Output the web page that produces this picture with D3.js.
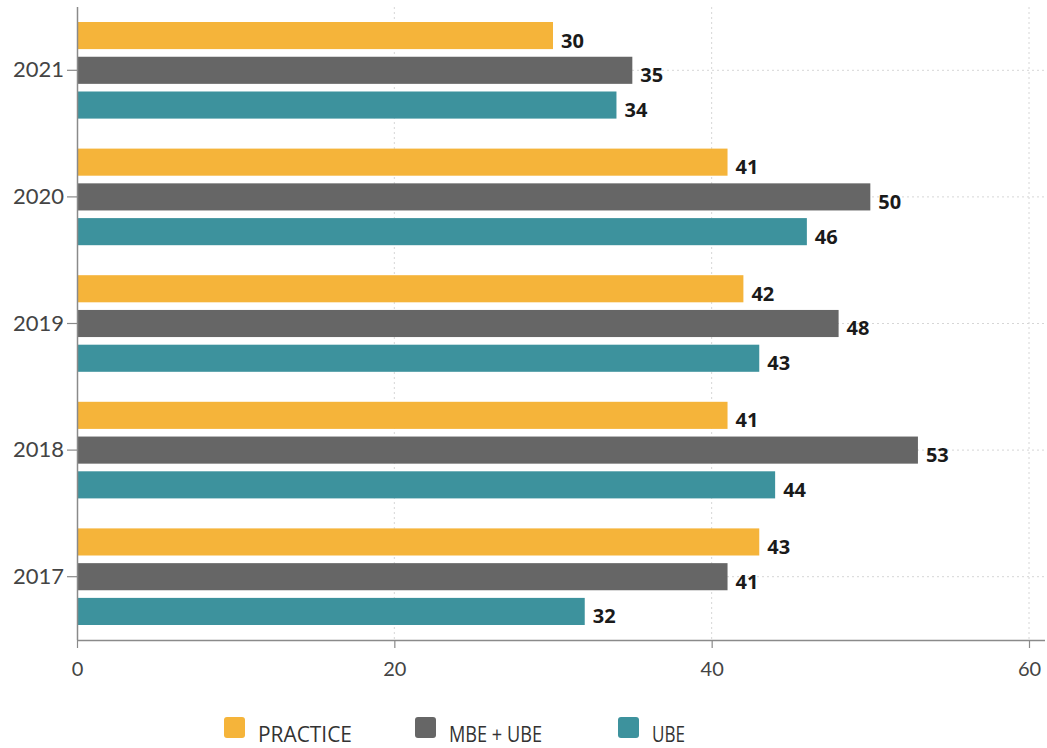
<!DOCTYPE html>
<html>
<head>
<meta charset="utf-8">
<script src="https://cdn.jsdelivr.net/npm/d3@7"></script>
<style>
  html, body { margin: 0; padding: 0; background: #fff; }
  svg { display: block; }
</style>
</head>
<body>
<svg id="chart" width="1047" height="748"></svg>
<script>
// Years, top to bottom
const years = ["2021", "2020", "2019", "2018", "2017"];
// Series names (legend order)
const seriesNames = ["PRACTICE", "MBE + UBE", "UBE"];
const seriesColors = ["#F5B43A", "#666666", "#3D929D"];
// Values per series, aligned with years
const practice = [30, 41, 42, 41, 43];
const mbeUbe   = [35, 50, 48, 53, 41];
const ube      = [34, 46, 43, 44, 32];
const xTicks = [0, 20, 40, 60];

const seriesValues = [practice, mbeUbe, ube];

const svg = d3.select("#chart");
const plotLeft = 77, plotRight = 1045, plotTop = 7, plotBottom = 640;

const x = d3.scaleLinear().domain([0, 61]).range([plotLeft, plotLeft + (1029 - 77) * 61 / 60]);
const y0 = d3.scaleBand().domain(years).range([plotTop, plotBottom]).padding(0);
const y1 = d3.scaleBand().domain(seriesNames)
  .range([15, y0.bandwidth() - 15]).paddingInner(0.22).paddingOuter(0);

const grid = svg.append("g");
// vertical dotted gridlines
grid.selectAll("line.v").data(xTicks.filter(d => d > 0)).join("line")
  .attr("x1", d => x(d)).attr("x2", d => x(d))
  .attr("y1", plotTop).attr("y2", plotBottom)
  .attr("stroke", "#d6d6d6").attr("stroke-width", 1)
  .attr("stroke-dasharray", "2,3");
// horizontal dotted gridlines at each year
grid.selectAll("line.h").data(years).join("line")
  .attr("x1", plotLeft).attr("x2", plotRight)
  .attr("y1", d => y0(d) + y0.bandwidth() / 2).attr("y2", d => y0(d) + y0.bandwidth() / 2)
  .attr("stroke", "#d6d6d6").attr("stroke-width", 1)
  .attr("stroke-dasharray", "2,3");

// bars with value labels
const groups = svg.append("g").selectAll("g").data(years).join("g")
  .attr("transform", d => `translate(0,${y0(d)})`);

groups.each(function(year, yi) {
  const g = d3.select(this);
  seriesNames.forEach((s, si) => {
    const v = seriesValues[si][yi];
    g.append("rect")
      .attr("x", x(0)).attr("y", y1(s))
      .attr("width", x(v) - x(0)).attr("height", y1.bandwidth())
      .attr("fill", seriesColors[si]);
    g.append("text")
      .attr("x", x(v) + 8).attr("y", y1(s) + y1.bandwidth() / 2 + 12)
      .attr("font-family", "'Open Sans', 'Noto Sans', sans-serif")
      .attr("font-weight", 700).attr("font-size", 20)
      .attr("fill", "#1a1a1a")
      .text(v);
  });
});

// x axis
const xAxis = svg.append("g").attr("transform", `translate(0,${plotBottom})`)
  .call(d3.axisBottom(x).tickValues(xTicks).tickSize(8).tickPadding(14));
xAxis.select(".domain").attr("d", `M${plotLeft},0.5H${plotRight}`).attr("stroke", "#8a8a8a").attr("stroke-width", 1.5);
xAxis.selectAll(".tick line").attr("stroke", "#8a8a8a").attr("stroke-width", 1.2);
xAxis.selectAll(".tick text")
  .attr("font-family", "Lato, 'Open Sans', sans-serif").attr("font-size", 20).attr("fill", "#444");

// y axis
const yAxis = svg.append("g").attr("transform", `translate(${plotLeft},0)`)
  .call(d3.axisLeft(y0).tickSize(10).tickPadding(3));
yAxis.select(".domain").attr("d", `M0.5,${plotTop}V${plotBottom}`).attr("stroke", "#8a8a8a").attr("stroke-width", 1.5);
yAxis.selectAll(".tick line").attr("stroke", "#8a8a8a").attr("stroke-width", 1.2);
yAxis.selectAll(".tick text")
  .attr("font-family", "Lato, 'Open Sans', sans-serif").attr("font-size", 22).attr("fill", "#444");

// legend
const legendX = [224, 415, 618];
const legendTextW = [94, 93, 33];
const legend = svg.append("g");
seriesNames.forEach((s, i) => {
  legend.append("rect")
    .attr("x", legendX[i]).attr("y", 717).attr("width", 21).attr("height", 21)
    .attr("rx", 3).attr("fill", seriesColors[i]);
  legend.append("text")
    .attr("x", legendX[i] + 34).attr("y", 742)
    .attr("font-family", "'Open Sans', 'Noto Sans', sans-serif").attr("font-size", 22)
    .attr("textLength", legendTextW[i]).attr("lengthAdjust", "spacingAndGlyphs")
    .attr("fill", "#333")
    .text(s);
});
</script>
</body>
</html>
